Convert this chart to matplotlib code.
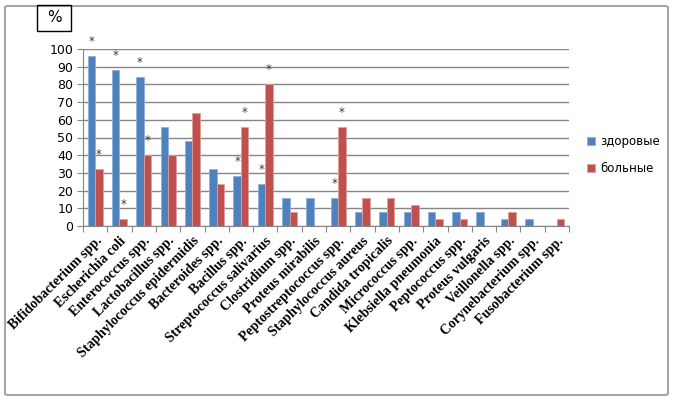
import matplotlib
matplotlib.use("Agg")
import matplotlib.pyplot as plt
import numpy as np
from matplotlib.patches import FancyBboxPatch, Rectangle

categories = ["Bifidobacterium spp.", "Escherichia coli", "Enterococcus spp.",
              "Lactobacillus spp.", "Staphylococcus epidermidis", "Bacteroides spp.",
              "Bacillus spp.", "Streptococcus salivarius", "Clostridium spp.",
              "Proteus mirabilis", "Peptostreptococcus spp.", "Staphylococcus aureus",
              "Candida tropicalis", "Micrococcus spp.", "Klebsiella pneumonia",
              "Peptococcus spp.", "Proteus vulgaris", "Veillonella spp.",
              "Corynebacterium spp.", "Fusobacterium spp."]
healthy = [96, 88, 84, 56, 48, 32, 28, 24, 16, 16, 16, 8, 8, 8, 8, 8, 8, 4, 4, 0]
sick = [32, 4, 40, 40, 64, 24, 56, 80, 8, 0, 56, 16, 16, 12, 4, 4, 0, 8, 0, 4]
star_healthy = [1, 1, 1, 0, 0, 0, 1, 1, 0, 0, 1, 0, 0, 0, 0, 0, 0, 0, 0, 0]
star_sick = [1, 1, 1, 0, 0, 0, 1, 1, 0, 0, 1, 0, 0, 0, 0, 0, 0, 0, 0, 0]
series_names = ["здоровые", "больные"]
yticks = list(range(0, 101, 10))

BLUE = "#4F81BD"
RED = "#C0504D"

fig = plt.figure(figsize=(6.73, 4.0), dpi=100)
fig.patch.set_facecolor("white")

# outer frame
frame = FancyBboxPatch((5/673, 5/400), 663/673, 389/400,
                       boxstyle="round,pad=0,rounding_size=0.004",
                       transform=fig.transFigure, fill=False,
                       edgecolor="#A6A6A6", linewidth=1.5)
fig.add_artist(frame)

ax = fig.add_axes([83/673, 1-226/400, (569-83)/673, (226-49)/400])
x = np.arange(len(categories))
w = 0.31
ax.bar(x - w/2, healthy, width=w, color=BLUE, edgecolor="#8EB0DA", linewidth=0.6,
       label=series_names[0], zorder=3)
ax.bar(x + w/2, sick, width=w, color=RED, edgecolor="#E0A09E", linewidth=0.6,
       label=series_names[1], zorder=3)

for i in range(len(categories)):
    if star_healthy[i]:
        ax.text(x[i] - w/2, healthy[i] + 4.5, "*", ha="center", va="bottom",
                fontsize=8.5, color="#3A3A3A", zorder=4)
    if star_sick[i]:
        ax.text(x[i] + w/2, sick[i] + 4.5, "*", ha="center", va="bottom",
                fontsize=8.5, color="#3A3A3A", zorder=4)

ax.set_xlim(-0.5, len(categories) - 0.5)
ax.set_ylim(0, 100)
ax.set_yticks(yticks)
ax.set_yticklabels([str(t) for t in yticks], fontsize=9, color="black")
ax.yaxis.grid(True, color="#868686", linewidth=1.0, zorder=0)
ax.set_axisbelow(True)
for s in ["top", "right"]:
    ax.spines[s].set_visible(False)
ax.spines["left"].set_color("#868686")
ax.spines["bottom"].set_color("#868686")
ax.tick_params(axis="y", length=4, color="#868686", pad=3)

ax.set_xticks(np.arange(-0.5, len(categories) + 0.5, 1.0), minor=False)
ax.set_xticklabels([])
ax.tick_params(axis="x", which="major", length=4, color="#868686")
ax.set_xticks(x, minor=True)
ax.set_xticklabels(categories, minor=True, rotation=45, ha="right",
                   rotation_mode="anchor", fontsize=10, fontweight="bold",
                   family="Liberation Serif")
ax.tick_params(axis="x", which="minor", length=0, pad=6)

leg = ax.legend(loc="center left", bbox_to_anchor=(1.015, 0.4), frameon=False,
                fontsize=8.5, handlelength=0.7, handleheight=0.7,
                labelspacing=1.2, handletextpad=0.4)

# "%" box
fig.add_artist(Rectangle((37/673, 1-31/400), 34/673, 26/400,
                         transform=fig.transFigure, fill=False,
                         edgecolor="black", linewidth=1.0))
fig.text(54/673, 1-18/400, "%", ha="center", va="center", fontsize=11)

fig.savefig("out.png", dpi=100)
